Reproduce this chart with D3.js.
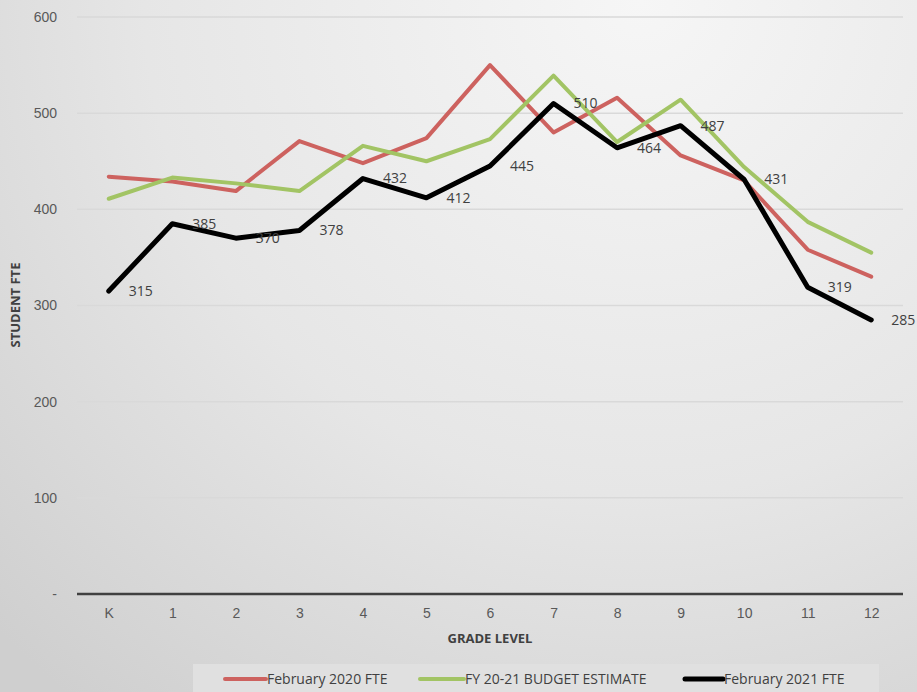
<!DOCTYPE html>
<html>
<head>
<meta charset="utf-8">
<script src="https://cdn.jsdelivr.net/npm/d3@7"></script>
<style>
  html, body { margin: 0; padding: 0; }
  body { width: 917px; height: 692px; overflow: hidden; }
  svg { display: block; font-family: "Open Sans", "Noto Sans", sans-serif; }
</style>
</head>
<body>
<svg id="chart" width="917" height="692"></svg>
<script>
// Grade levels and enrollment series
const grades = ["K", "1", "2", "3", "4", "5", "6", "7", "8", "9", "10", "11", "12"];
const feb2020 = [434, 429, 419, 471, 448, 474, 550, 480, 516, 456, 430, 358, 330];
const budget2021 = [411, 433, 427, 419, 466, 450, 473, 539, 470, 514, 444, 387, 355];
const feb2021 = [315, 385, 370, 378, 432, 412, 445, 510, 464, 487, 431, 319, 285];
const yTicks = [0, 100, 200, 300, 400, 500, 600];
const seriesNames = ["February 2020 FTE", "FY 20-21 BUDGET ESTIMATE", "February 2021 FTE"];

const series = [
  { name: seriesNames[0], values: feb2020, color: "#cd625f", width: 4, labels: false },
  { name: seriesNames[1], values: budget2021, color: "#a2c464", width: 4, labels: false },
  { name: seriesNames[2], values: feb2021, color: "#000000", width: 5, labels: true }
];

const W = 917, H = 692;
const plot = { left: 77, right: 903, top: 17, bottom: 594 };

const svg = d3.select("#chart");

// soft grey background
const defs = svg.append("defs");
const grad = defs.append("radialGradient")
  .attr("id", "bg").attr("gradientUnits", "userSpaceOnUse")
  .attr("cx", 640).attr("cy", 0).attr("r", 900);
grad.append("stop").attr("offset", "0%").attr("stop-color", "#f6f6f6");
grad.append("stop").attr("offset", "55%").attr("stop-color", "#e6e6e6");
grad.append("stop").attr("offset", "100%").attr("stop-color", "#cfcfcf");
svg.append("rect").attr("width", W).attr("height", H).attr("fill", "url(#bg)");

const x = d3.scalePoint().domain(grades).range([plot.left, plot.right]).padding(0.5);
const y = d3.scaleLinear().domain([0, 600]).range([plot.bottom, plot.top]);

// horizontal gridlines
svg.append("g").selectAll("line")
  .data(yTicks.filter(d => d > 0))
  .join("line")
  .attr("x1", plot.left).attr("x2", plot.right)
  .attr("y1", d => y(d)).attr("y2", d => y(d))
  .attr("stroke", "#d9d9d9").attr("stroke-width", 1.5);

// y axis labels
const yAxis = d3.axisLeft(y).tickValues(yTicks)
  .tickFormat(d => d === 0 ? "-" : d)
  .tickSize(0).tickPadding(20);
const gy = svg.append("g").attr("transform", `translate(${plot.left},0)`).call(yAxis);
gy.select(".domain").remove();
gy.selectAll("text").attr("fill", "#595959").style("font-size", "14px");

// x axis
const xAxis = d3.axisBottom(x).tickSize(0).tickPadding(14);
const gx = svg.append("g").attr("transform", `translate(0,${plot.bottom})`).call(xAxis);
gx.select(".domain").attr("stroke", "#404040").attr("stroke-width", 2.5)
  .attr("d", `M${plot.left},0H${plot.right}`);
gx.selectAll("text").attr("fill", "#595959").style("font-size", "14px");

// axis titles
svg.append("text")
  .attr("x", 490).attr("y", 643)
  .attr("text-anchor", "middle")
  .attr("fill", "#404040").style("font-size", "13px").style("font-weight", "bold")
  .text("GRADE LEVEL");
svg.append("text")
  .attr("transform", "translate(20,305) rotate(-90)")
  .attr("text-anchor", "middle")
  .attr("fill", "#404040").style("font-size", "13px").style("font-weight", "bold")
  .text("STUDENT FTE");

// series lines
const line = d3.line()
  .x((d, i) => x(grades[i]))
  .y(d => y(d));

series.forEach(s => {
  svg.append("path")
    .datum(s.values)
    .attr("d", line)
    .attr("fill", "none")
    .attr("stroke", s.color)
    .attr("stroke-width", s.width)
    .attr("stroke-linejoin", "round")
    .attr("stroke-linecap", "round");
});

// value labels for the 2021 series
const labelled = series.find(s => s.labels);
svg.append("g").selectAll("text")
  .data(labelled.values)
  .join("text")
  .attr("x", (d, i) => x(grades[i]) + 20)
  .attr("y", d => y(d))
  .attr("dy", "0.35em")
  .attr("fill", "#404040")
  .style("font-size", "14px")
  .text(d => d);

// legend
const legend = svg.append("g");
legend.append("rect")
  .attr("x", 193).attr("y", 664).attr("width", 686).attr("height", 30)
  .attr("fill", "#e0e0e0");
const legendX = [225, 420, 685];
const legendLen = [41, 44, 38];
series.forEach((s, i) => {
  const g = legend.append("g").attr("transform", `translate(${legendX[i]},679)`);
  g.append("line")
    .attr("x1", 0).attr("x2", legendLen[i])
    .attr("y1", 0).attr("y2", 0)
    .attr("stroke", s.color).attr("stroke-width", s.width)
    .attr("stroke-linecap", "round");
  g.append("text")
    .attr("x", legendLen[i] + 1).attr("y", 0).attr("dy", "0.35em")
    .attr("fill", "#404040").style("font-size", "14px")
    .text(s.name);
});
</script>
</body>
</html>
